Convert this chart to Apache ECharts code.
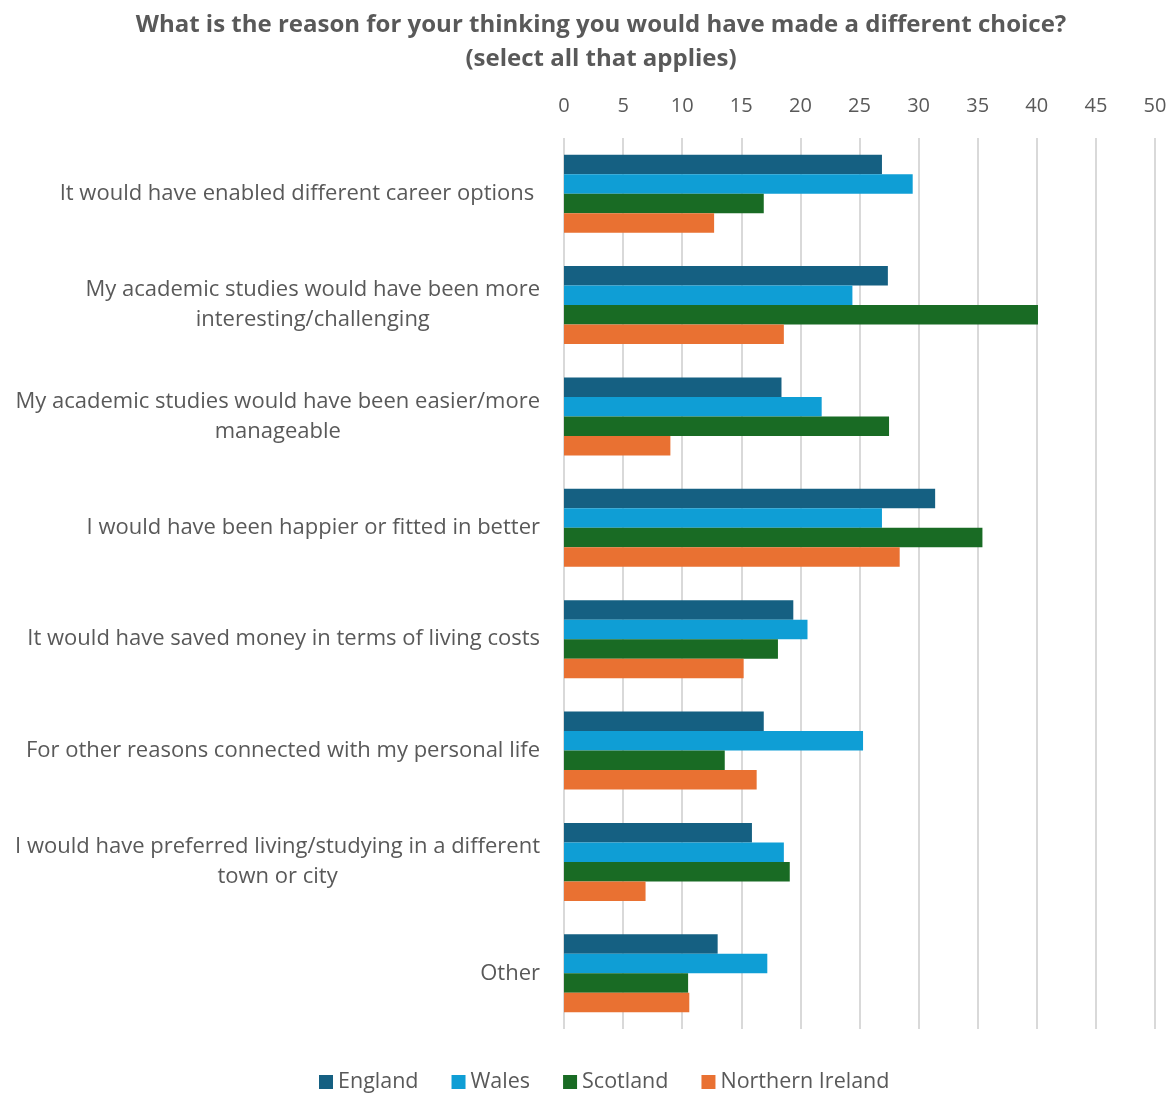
<!DOCTYPE html>
<html>
<head>
<meta charset="utf-8">
<script src="https://cdn.jsdelivr.net/npm/echarts@6/dist/echarts.min.js"></script>
<style>
  html, body { margin: 0; padding: 0; background: #fff; }
  #chart { width: 1173px; height: 1093px; }
</style>
</head>
<body>
<div id="chart"></div>
<script>
// Survey reasons, top to bottom
var categories = [
  'It would have enabled different career options ',
  'My academic studies would have been more\ninteresting/challenging',
  'My academic studies would have been easier/more\nmanageable',
  'I would have been happier or fitted in better',
  'It would have saved money in terms of living costs',
  'For other reasons connected with my personal life',
  'I would have preferred living/studying in a different\ntown or city',
  'Other'
];

var england         = [26.9, 27.4, 18.4, 31.4, 19.4, 16.9, 15.9, 13.0];
var wales           = [29.5, 24.4, 21.8, 26.9, 20.6, 25.3, 18.6, 17.2];
var scotland        = [16.9, 40.1, 27.5, 35.4, 18.1, 13.6, 19.1, 10.5];
var northernIreland = [12.7, 18.6,  9.0, 28.4, 15.2, 16.3,  6.9, 10.6];

var seriesNames = ['England', 'Wales', 'Scotland', 'Northern Ireland'];
var seriesColors = ['#156082', '#0F9ED5', '#196B24', '#E97132'];
var seriesData = [england, wales, scotland, northernIreland];

var axisMin = 0, axisMax = 50, axisStep = 5;

var FONT = '"Open Sans", sans-serif';
var chart = echarts.init(document.getElementById('chart'), null, { renderer: 'canvas' });

chart.setOption({
  backgroundColor: '#ffffff',
  animation: false,
  title: {
    text: 'What is the reason for your thinking you would have made a different choice?\n(select all that applies)',
    left: 596,
    top: 3,
    textAlign: 'center',
    textStyle: {
      fontFamily: FONT,
      fontSize: 24,
      fontWeight: 'bold',
      color: '#595959',
      lineHeight: 34
    }
  },
  legend: {
    data: seriesNames,
    top: 1066,
    left: 314,
    itemWidth: 14,
    itemHeight: 14,
    itemGap: 33,
    icon: 'rect',
    textStyle: { fontFamily: FONT, fontSize: 21.5, color: '#595959' }
  },
  grid: {
    left: 564,
    right: 18,
    top: 138,
    bottom: 64,
    containLabel: false
  },
  xAxis: {
    type: 'value',
    position: 'top',
    min: axisMin,
    max: axisMax,
    interval: axisStep,
    axisLine: { show: false },
    axisTick: { show: false },
    axisLabel: {
      margin: 22,
      fontFamily: FONT,
      fontSize: 20,
      color: '#595959'
    },
    splitLine: { show: true, lineStyle: { color: '#d9d9d9', width: 2 } }
  },
  yAxis: {
    type: 'category',
    data: categories,
    inverse: true,
    axisLine: { show: false },
    axisTick: { show: false },
    axisLabel: {
      margin: 24,
      align: 'right',
      formatter: function (v) {
        return v.split('\n').map(function (s) { return '{c|' + s + '}'; }).join('\n');
      },
      rich: {
        c: {
          align: 'center',
          fontFamily: FONT,
          fontSize: 22,
          lineHeight: 30,
          color: '#595959'
        }
      }
    }
  },
  series: seriesNames.map(function (name, i) {
    return {
      name: name,
      type: 'bar',
      data: seriesData[i],
      barGap: '0%',
      barCategoryGap: '30%',
      itemStyle: { color: seriesColors[i] }
    };
  })
});
</script>
</body>
</html>
